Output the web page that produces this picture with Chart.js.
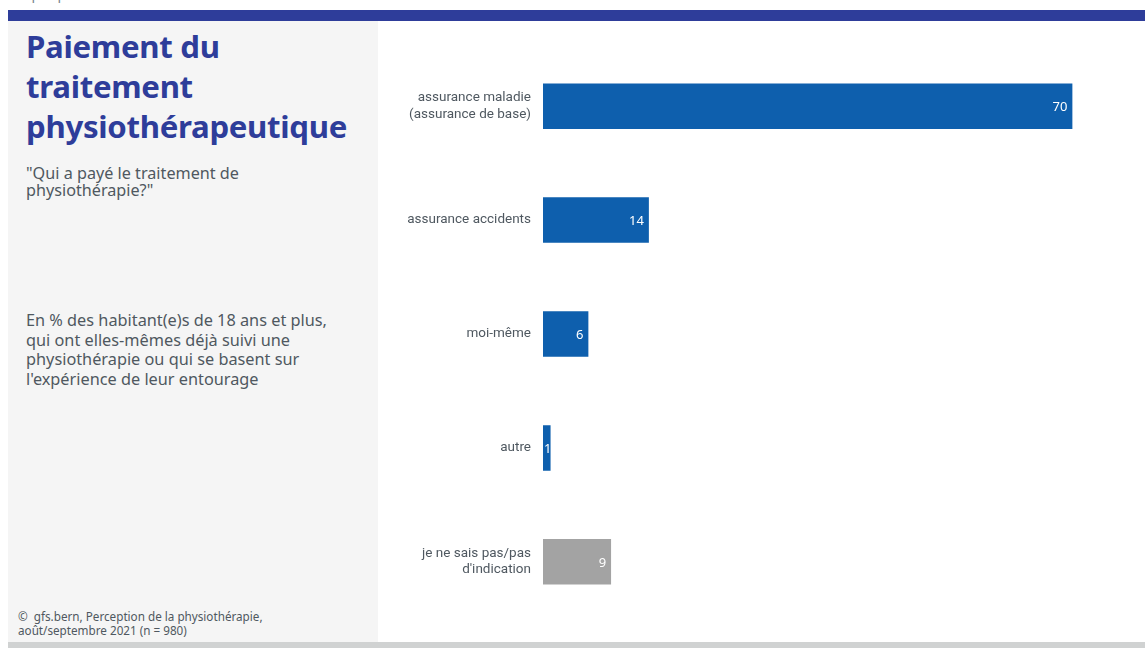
<!DOCTYPE html>
<html lang="fr">
<head>
<meta charset="utf-8">
<script src="https://cdn.jsdelivr.net/npm/chart.js@4/dist/chart.umd.min.js"></script>
<style>
  html, body { margin: 0; padding: 0; width: 1145px; height: 648px; overflow: hidden; background: #fff; font-family: "Open Sans", "Noto Sans", sans-serif; }
  .kicker { position: absolute; left: 8px; top: -16px; font: 14px "Noto Sans", sans-serif; color: #7a838c; }
  .band { position: absolute; left: 8px; top: 10px; width: 1137px; height: 11px; background: #2e3d9a; }
  .panel { position: absolute; left: 8px; top: 21px; width: 370px; height: 621px; background: #f5f5f5; }
  .footer { position: absolute; left: 8px; top: 642px; width: 1137px; height: 6px; background: #d0d2d2; z-index: 2; }
  h1 { position: absolute; left: 26px; top: 26px; margin: 0; font: bold 31.2px/40px "Noto Sans", "Open Sans", sans-serif; color: #2e3d9a; letter-spacing: -0.3px; }
  .question { position: absolute; left: 26px; top: 165px; margin: 0; font: 16.2px/17px "Noto Sans", sans-serif; color: #4f5860; }
  .base { position: absolute; left: 26px; top: 311px; margin: 0; font: 16.3px/19.7px "Noto Sans", sans-serif; color: #4f5860; }
  .source { position: absolute; left: 18px; top: 609px; margin: 0; font: 11.7px/14px "Noto Sans", sans-serif; color: #4f5860; }
  #wrap { position: absolute; left: 378px; top: 21px; width: 770px; height: 626px; }
</style>
</head>
<body>
<div class="kicker">Graphique 3</div>
<div class="band"></div>
<div class="panel"></div>
<h1>Paiement du<br>traitement<br>physiothérapeutique</h1>
<p class="question">"Qui a payé le traitement de<br>physiothérapie?"</p>
<p class="base">En % des habitant(e)s de 18 ans et plus,<br>qui ont elles-mêmes déjà suivi une<br>physiothérapie ou qui se basent sur<br>l'expérience de leur entourage</p>
<p class="source">©&nbsp; gfs.bern, Perception de la physiothérapie,<br>août/septembre 2021 (n = 980)</p>
<div id="wrap"><canvas id="chart" width="770" height="626"></canvas></div>
<div class="footer"></div>
<script>
// Answer categories (multi-line labels as arrays)
const categories = [
  ["assurance maladie", "(assurance de base)"],
  "assurance accidents",
  "moi-même",
  "autre",
  ["je ne sais pas/pas", "d'indication"]
];
// Share of respondents, in %
const shares = [70, 14, 6, 1, 9];
const barColors = ["#0e5fad", "#0e5fad", "#0e5fad", "#0e5fad", "#a3a3a3"];

// Writes each value in white, right-aligned inside the end of its bar
const valueLabels = {
  id: "valueLabels",
  afterDatasetsDraw(chart) {
    const ctx = chart.ctx;
    const meta = chart.getDatasetMeta(0);
    ctx.save();
    ctx.font = '13px "Noto Sans", sans-serif';
    ctx.fillStyle = "#ffffff";
    ctx.textAlign = "right";
    ctx.textBaseline = "middle";
    meta.data.forEach((bar, i) => {
      const text = String(chart.data.datasets[0].data[i]);
      const w = ctx.measureText(text).width;
      // narrow bars: keep the number inside, starting at the bar's base
      const x = Math.max(bar.x - 5, bar.base + w + 1);
      ctx.fillText(text, x, bar.y + 1);
    });
    ctx.restore();
  }
};

new Chart(document.getElementById("chart"), {
  type: "bar",
  data: {
    labels: categories,
    datasets: [{
      data: shares,
      backgroundColor: barColors,
      borderWidth: 0,
      barPercentage: 0.4,
      categoryPercentage: 1.0
    }]
  },
  options: {
    indexAxis: "y",
    responsive: false,
    animation: false,
    layout: { padding: { top: 26, bottom: 17, left: 0, right: 0 } },
    plugins: { legend: { display: false }, tooltip: { enabled: false } },
    scales: {
      x: {
        display: false,
        min: 0,
        max: 80
      },
      y: {
        grid: { display: false, drawTicks: false },
        border: { display: false },
        ticks: {
          color: "#4f5860",
          font: { family: "Roboto, 'Noto Sans', sans-serif", size: 13.5 },
          padding: 12
        },
        afterFit(scale) { scale.width = 165; }
      }
    }
  },
  plugins: [valueLabels]
});
</script>
</body>
</html>
